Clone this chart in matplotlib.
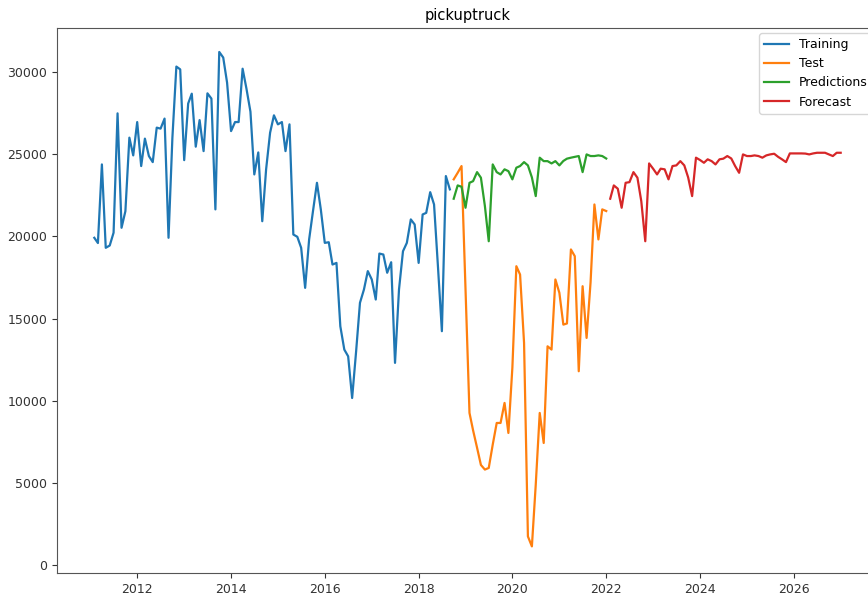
import matplotlib
matplotlib.use("Agg")
import matplotlib.pyplot as plt
import pandas as pd

# Monthly pickup-truck sales: training history, held-out test, model predictions and forecast
train_values = [
    19920, 19600, 24390, 19310, 19450, 20230, 27500, 20530, 21540, 26020,
    24940, 26970, 24290, 25960, 24900, 24530, 26630, 26570, 27180, 19920,
    26000, 30350, 30180, 24650, 28100, 28700, 25470, 27090, 25200, 28720,
    28400, 21650, 31240, 30900, 29370, 26420, 26970, 26970, 30220, 29000,
    27600, 23780, 25120, 20930, 24090, 26320, 27380, 26830, 26970, 25200,
    26830, 20120, 19980, 19310, 16870, 19820, 21540, 23270, 21650, 19610,
    19650, 18290, 18390, 14530, 13110, 12700, 10160, 13000, 15960, 16770,
    17890, 17380, 16160, 18960, 18900, 17790, 18430, 12300, 16770, 19100,
    19610, 21040, 20730, 18390, 21340, 21440, 22700, 21950, 18090, 14230,
    23680, 22870,
]

test_values = [
    23480, 23880, 24290, 16800, 9250, 8190, 7130, 6080, 5800, 5900,
    7320, 8640, 8640, 9860, 8030, 12010, 18190, 17680, 13520, 1730,
    1120, 4880, 9250, 7420, 13310, 13110, 17380, 16570, 14630, 14700,
    19210, 18800, 11790, 16970, 13820, 17210, 21950, 19820, 21650, 21550,
]

prediction_values = [
    22300, 23110, 23030, 21750, 23270, 23370, 23920, 23580, 21850, 19710,
    24390, 23920, 23780, 24090, 23980, 23480, 24190, 24290, 24530, 24330,
    23600, 22460, 24800, 24590, 24590, 24450, 24590, 24330, 24600, 24740,
    24800, 24850, 24900, 23920, 25000, 24900, 24900, 24940, 24900, 24750,
]

forecast_values = [
    22300, 23110, 22910, 21750, 23270, 23310, 23920, 23580, 22150, 19710,
    24450, 24130, 23780, 24130, 24090, 23480, 24290, 24330, 24590, 24330,
    23600, 22460, 24800, 24660, 24490, 24700, 24590, 24390, 24700, 24740,
    24900, 24750, 24290, 23880, 25000, 24900, 24900, 24940, 24900, 24800,
    24940, 25000, 25040, 24850, 24700, 24530, 25060, 25060, 25060, 25060,
    25050, 25000, 25060, 25100, 25100, 25100, 25000, 24900, 25100, 25100,
]

train_dates = pd.date_range("2011-02-01", periods=len(train_values), freq="MS")
test_dates = pd.date_range("2018-10-01", periods=len(test_values), freq="MS")
forecast_dates = pd.date_range("2022-02-01", periods=len(forecast_values), freq="MS")

fig = plt.figure(figsize=(8.68, 5.94), dpi=100)
# Axes runs a little past the right edge of the canvas
ax = fig.add_axes([57 / 868, 21 / 594, 821 / 868, 545 / 594])

ax.plot(train_dates, train_values, color="#1f77b4", lw=1.6, label="Training")
ax.plot(test_dates, test_values, color="#ff7f0e", lw=1.6, label="Test")
ax.plot(test_dates, prediction_values, color="#2ca02c", lw=1.6, label="Predictions")
ax.plot(forecast_dates, forecast_values, color="#d62728", lw=1.6, label="Forecast")

ax.set_ylim(-500, 32700)
ax.set_title("pickuptruck", fontsize=10.5)
ax.tick_params(labelsize=9, colors="#333333")
for spine in ax.spines.values():
    spine.set_color("#555555")

ax.legend(loc="upper left", bbox_to_anchor=(759 / 868, 1 - 33 / 594),
          bbox_transform=fig.transFigure, borderaxespad=0, fontsize=9)

fig.savefig("out.png", dpi=100)
